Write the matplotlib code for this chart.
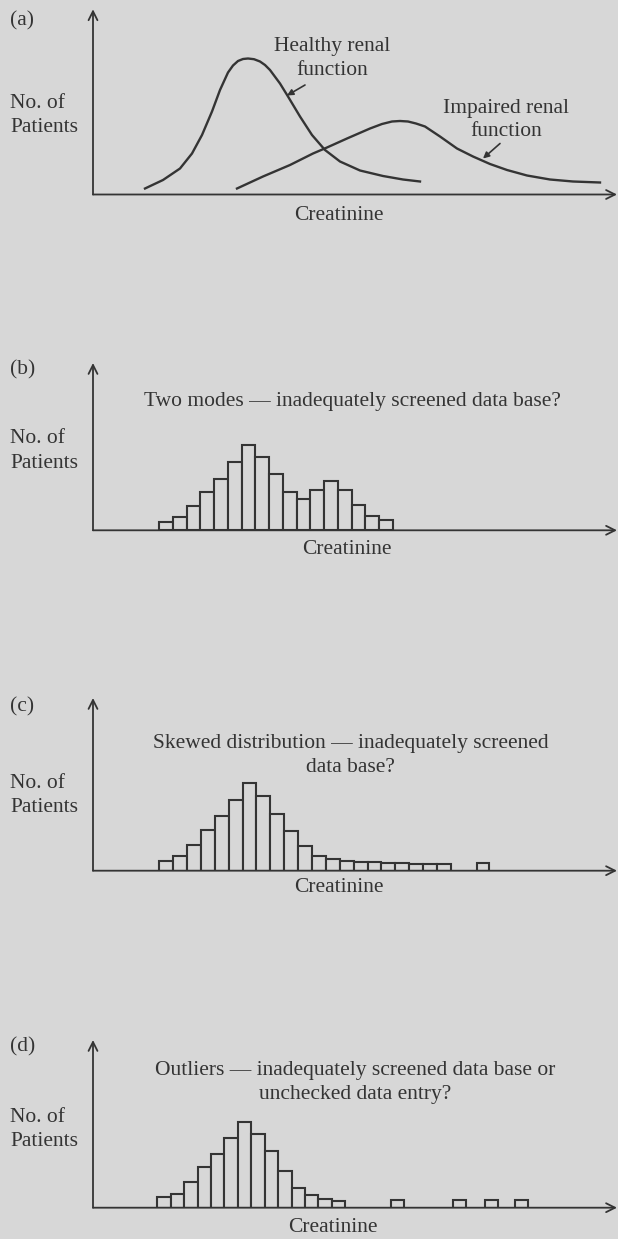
import numpy as np
import matplotlib
matplotlib.use("Agg")
import matplotlib.pyplot as plt

plt.rcParams['font.family'] = ['Liberation Serif', 'DejaVu Serif']

# panel (a): curves (creatinine in arbitrary units, height in arbitrary units)
healthy_x = [145, 163, 180, 192, 202, 212, 220, 228, 233, 238, 243, 248, 254, 260,
             265, 270, 280, 288, 300, 312, 325, 340, 360, 383, 403, 420]
healthy_y = [6, 14.5, 26, 41, 59.5, 83, 104.5, 122, 129, 133.5, 135.5, 136, 135.3, 133,
             129.5, 124.5, 111, 98, 78, 59.5, 44.5, 33, 24, 18.5, 15, 13]
impaired_x = [237, 263, 290, 313, 327, 347, 370, 382, 392, 400, 408, 416, 425, 440,
              457, 473, 490, 507, 527, 550, 573, 600]
impaired_y = [6, 18, 29.5, 41, 47, 56, 66, 70.5, 73, 73.5, 73, 71, 68, 58,
              46, 38, 30.5, 24.5, 19, 15, 13, 12]

# panel (b): two modes
b_counts = [8, 13, 24, 38, 51, 68, 85, 73, 56, 38, 31, 40, 49, 40, 25, 14, 10]

# panel (c): skewed, long tail + one isolated bin
c_counts = [10, 15, 26, 41, 55, 71, 88, 75, 57, 40, 25, 15, 12, 10, 9, 9, 8, 8, 7, 7, 7]
c_extra_pos = [22.9]
c_extra_counts = [8]

# panel (d): outliers
d_counts = [11, 14, 26, 41, 54, 70, 86, 74, 57, 37, 20, 13, 9, 7]
d_extra_pos = [17.4, 22.0, 24.4, 26.6]
d_extra_counts = [8, 8, 8, 8]

BG = '#d7d7d7'
INK = '#343434'
FS = 15.5
W, H = 618, 1239
AX_LEFT, AX_RIGHT = 93, 617

fig = plt.figure(figsize=(W / 100, H / 100), dpi=100, facecolor=BG)


def txt(x, y, s, ha='left'):
    fig.text(x / W, 1 - y / H, s, ha=ha, va='center', fontsize=FS, color=INK)


def make_axes(base, top, x0, x1):
    ax = fig.add_axes([AX_LEFT / W, 1 - base / H, (AX_RIGHT - AX_LEFT) / W, (base - top) / H])
    ax.set_xlim(x0, x1)
    ax.set_ylim(0, base - top)
    ax.axis('off')
    arr = dict(arrowstyle='->', lw=1.3, color=INK, mutation_scale=16, shrinkA=0, shrinkB=0)
    ax.annotate('', xy=(0, 1), xytext=(0, 0), xycoords='axes fraction', arrowprops=arr)
    ax.annotate('', xy=(1, 0), xytext=(0, 0), xycoords='axes fraction', arrowprops=arr)
    return ax


def hist_axes(base, top, first_left, bin_px):
    return make_axes(base, top, (AX_LEFT - first_left) / bin_px, (AX_RIGHT - first_left) / bin_px)


def bars(ax, pos, counts, width=1.0):
    ax.bar(pos, counts, width=width, align='edge', facecolor=BG,
           edgecolor=INK, linewidth=1.5)


# (a)
ax = make_axes(194.5, 9.3, AX_LEFT, AX_RIGHT)
ax.plot(healthy_x, healthy_y, color=INK, lw=1.7, solid_joinstyle='round')
ax.plot(impaired_x, impaired_y, color=INK, lw=1.7, solid_joinstyle='round')
small = dict(arrowstyle='-|>', lw=1.2, color=INK, mutation_scale=9, shrinkA=0, shrinkB=0)
ax.annotate('', xy=(287, 99), xytext=(305, 109.5), arrowprops=small)
ax.annotate('', xy=(483, 36), xytext=(500, 51), arrowprops=small)
txt(10, 20.7, '(a)')
txt(10, 103, 'No. of')
txt(10, 127, 'Patients')
txt(332, 46.7, 'Healthy renal', ha='center')
txt(332, 70.5, 'function', ha='center')
txt(506, 108, 'Impaired renal', ha='center')
txt(506, 131.5, 'function', ha='center')
txt(339, 215, 'Creatinine', ha='center')

# (b)
ax = hist_axes(530.3, 363, 159.3, 13.73)
bars(ax, np.arange(len(b_counts)), b_counts)
txt(10, 370, '(b)')
txt(352, 401.7, 'Two modes \u2014 inadequately screened data base?', ha='center')
txt(10, 438.3, 'No. of')
txt(10, 463.3, 'Patients')
txt(347, 550, 'Creatinine', ha='center')

# (c)
ax = hist_axes(870.7, 698, 159.3, 13.88)
bars(ax, np.arange(len(c_counts)), c_counts)
bars(ax, c_extra_pos, c_extra_counts, width=0.85)
txt(10, 706.7, '(c)')
txt(351, 743.3, 'Skewed distribution \u2014 inadequately screened', ha='center')
txt(350, 767.3, 'data base?', ha='center')
txt(10, 783, 'No. of')
txt(10, 807.3, 'Patients')
txt(339, 887, 'Creatinine', ha='center')

# (d)
ax = hist_axes(1207.7, 1040, 157.3, 13.43)
bars(ax, np.arange(len(d_counts)), d_counts)
bars(ax, d_extra_pos, d_extra_counts)
txt(10, 1047, '(d)')
txt(355, 1070, 'Outliers \u2014 inadequately screened data base or', ha='center')
txt(355, 1095, 'unchecked data entry?', ha='center')
txt(10, 1117, 'No. of')
txt(10, 1142, 'Patients')
txt(333, 1228, 'Creatinine', ha='center')

fig.savefig('out.png', dpi=100, facecolor=BG)
